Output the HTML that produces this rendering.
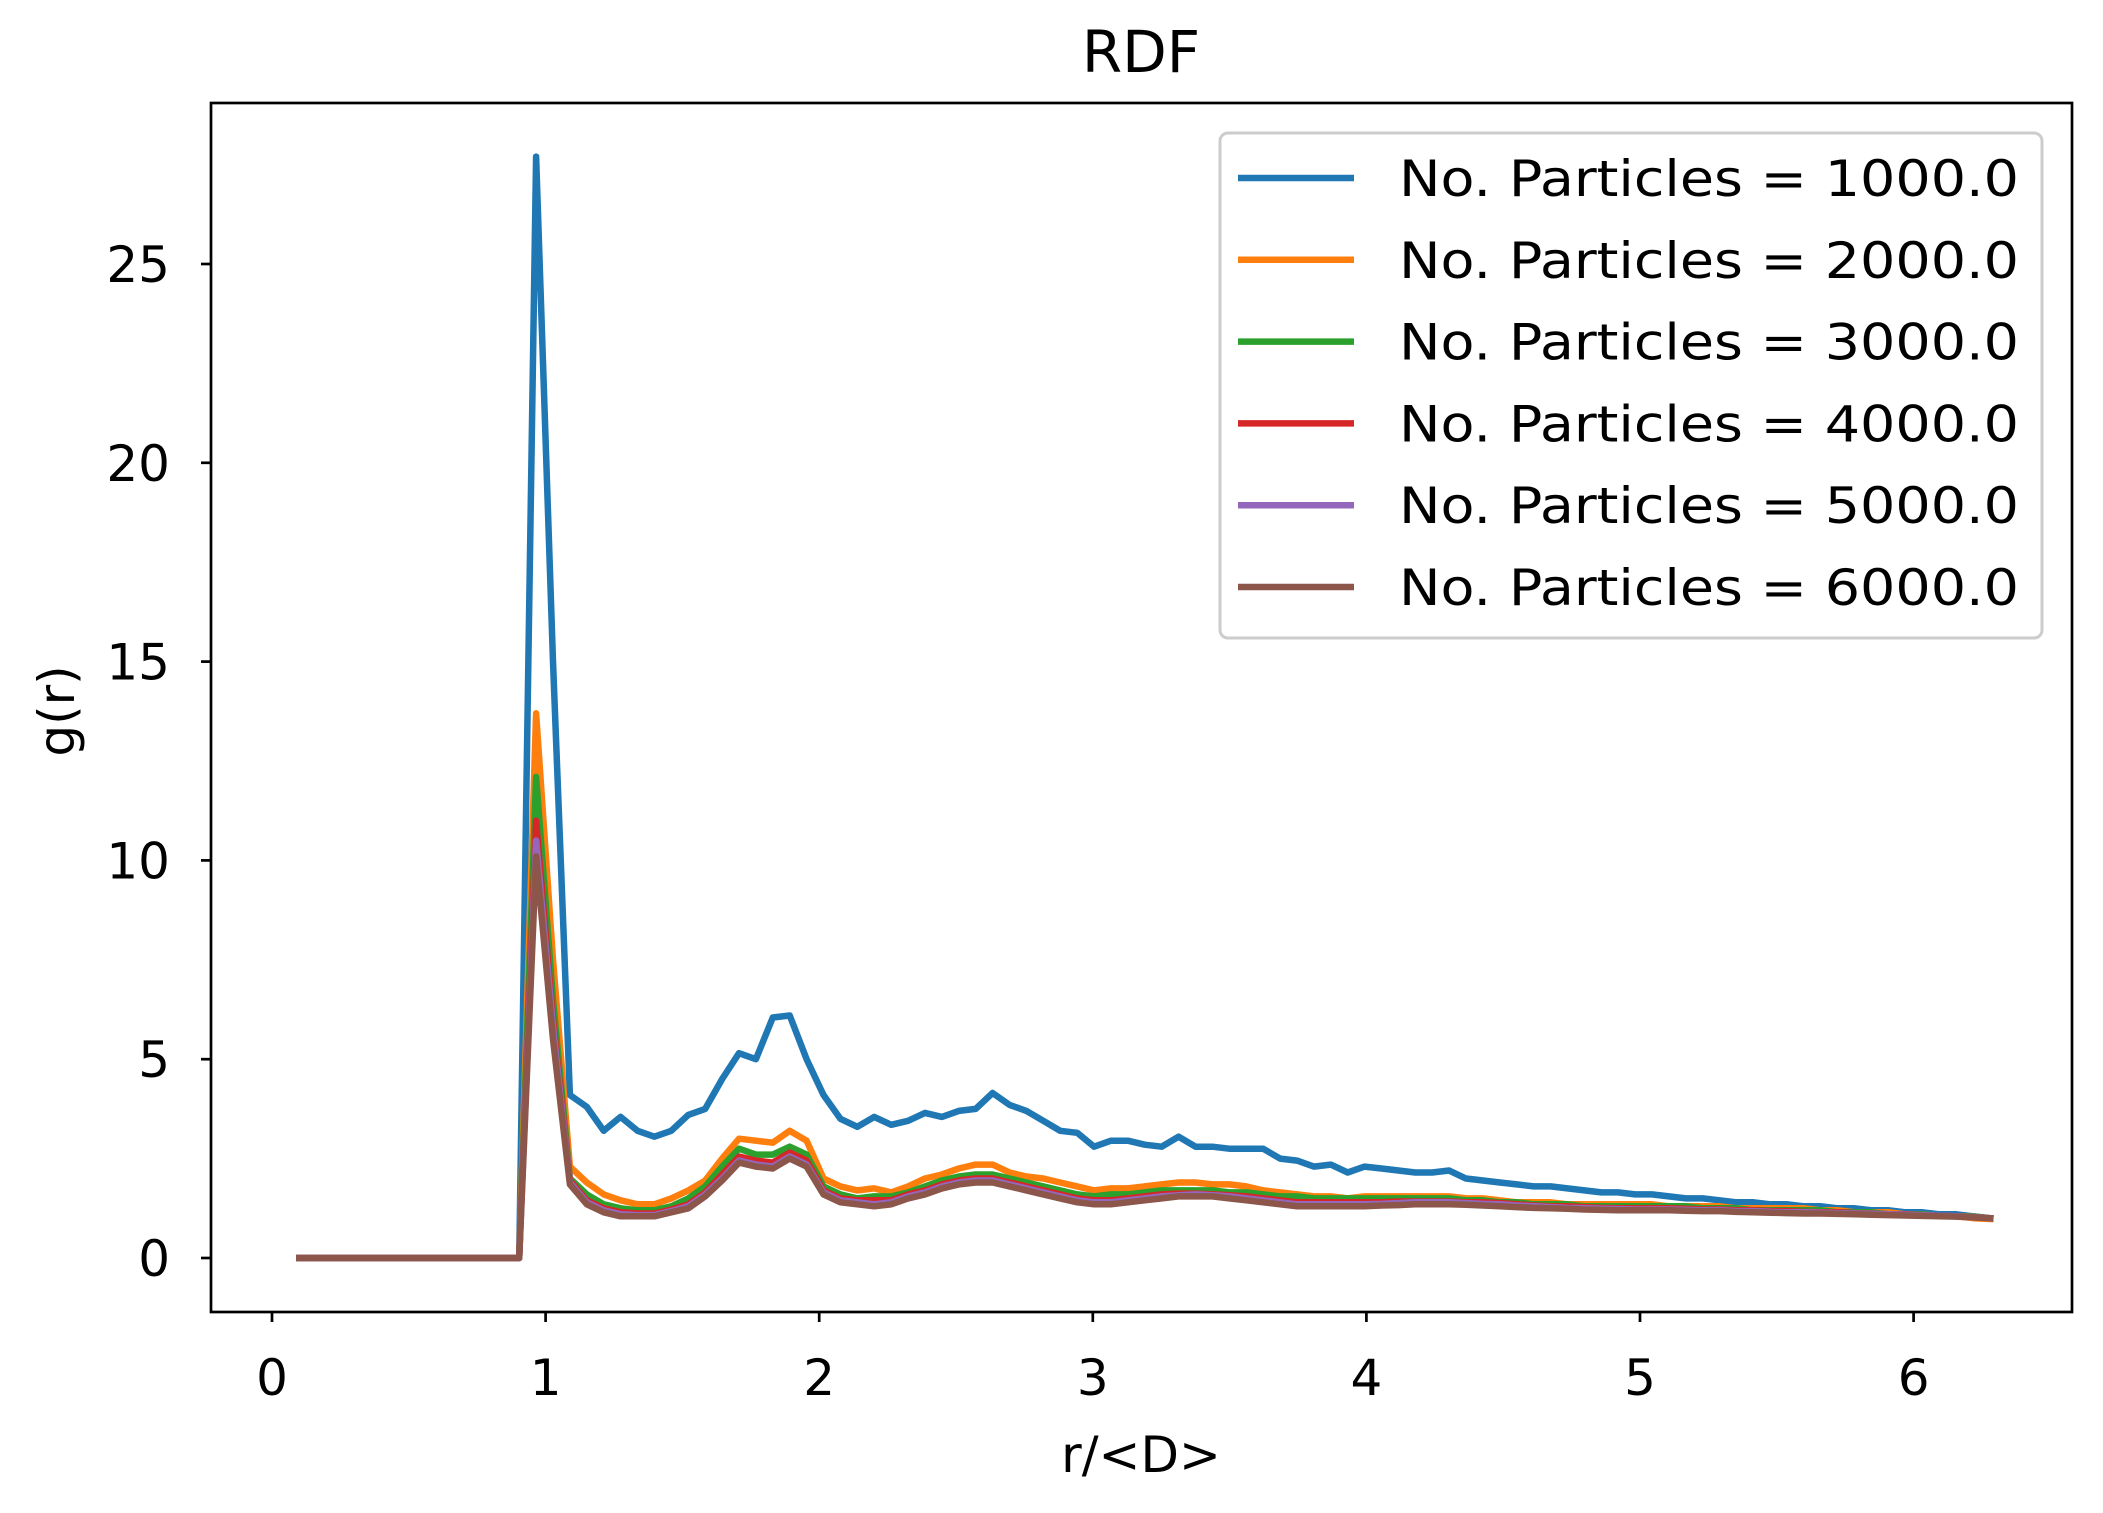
<!DOCTYPE html>
<html><head><meta charset="utf-8"><style>
html,body{margin:0;padding:0;background:#fff;}
svg{display:block;font-family:"DejaVu Sans","Liberation Sans",sans-serif;}
</style></head><body>
<svg id="chart" width="2103" height="1513" viewBox="0 0 2103 1513"></svg>
<script>
const rStart = 0.1;
const rStep = 0.0618;
const seriesLabels = ["No. Particles = 1000.0","No. Particles = 2000.0","No. Particles = 3000.0","No. Particles = 4000.0","No. Particles = 5000.0","No. Particles = 6000.0"];
const seriesColors = ["#1f77b4","#ff7f0e","#2ca02c","#d62728","#9467bd","#8c564b"];
const xTicks = [0,1,2,3,4,5,6];
const yTicks = [0,5,10,15,20,25];
const g1000 = [0,0,0,0,0,0,0,0,0,0,0,0,0,0,27.7,15,4.1,3.8,3.2,3.55,3.2,3.05,3.2,3.6,3.75,4.5,5.15,5.0,6.05,6.1,5.0,4.1,3.5,3.3,3.55,3.35,3.45,3.65,3.55,3.7,3.75,4.15,3.85,3.7,3.45,3.2,3.15,2.8,2.95,2.95,2.85,2.8,3.05,2.8,2.8,2.75,2.75,2.75,2.5,2.45,2.3,2.35,2.15,2.3,2.25,2.2,2.15,2.15,2.2,2.0,1.95,1.9,1.85,1.8,1.8,1.75,1.7,1.65,1.65,1.6,1.6,1.55,1.5,1.5,1.45,1.4,1.4,1.35,1.35,1.3,1.3,1.25,1.25,1.2,1.2,1.15,1.15,1.1,1.1,1.05,1.0];
const g2000 = [0,0,0,0,0,0,0,0,0,0,0,0,0,0,13.7,7.5,2.3,1.9,1.6,1.45,1.35,1.35,1.5,1.7,1.95,2.5,3.0,2.95,2.9,3.2,2.95,2.0,1.8,1.7,1.75,1.65,1.8,2.0,2.1,2.25,2.35,2.35,2.15,2.05,2.0,1.9,1.8,1.7,1.75,1.75,1.8,1.85,1.9,1.9,1.85,1.85,1.8,1.7,1.65,1.6,1.55,1.55,1.5,1.55,1.55,1.55,1.55,1.55,1.55,1.5,1.5,1.45,1.4,1.4,1.4,1.35,1.35,1.35,1.35,1.35,1.35,1.3,1.3,1.3,1.3,1.25,1.25,1.25,1.25,1.25,1.2,1.2,1.15,1.15,1.15,1.1,1.1,1.05,1.05,1.0,0.98];
const g3000 = [0,0,0,0,0,0,0,0,0,0,0,0,0,0,12.1,6.5,2.0,1.6,1.35,1.25,1.2,1.2,1.3,1.5,1.8,2.3,2.75,2.6,2.6,2.8,2.6,1.8,1.6,1.5,1.55,1.55,1.65,1.8,1.95,2.05,2.1,2.1,2.0,1.9,1.8,1.7,1.6,1.55,1.6,1.6,1.65,1.7,1.7,1.7,1.7,1.65,1.65,1.6,1.55,1.55,1.5,1.5,1.5,1.5,1.5,1.5,1.5,1.5,1.5,1.45,1.45,1.4,1.4,1.35,1.35,1.35,1.3,1.3,1.3,1.3,1.3,1.3,1.3,1.25,1.25,1.25,1.2,1.2,1.2,1.2,1.2,1.15,1.15,1.15,1.1,1.1,1.1,1.05,1.05,1.05,1.0];
const g4000 = [0,0,0,0,0,0,0,0,0,0,0,0,0,0,11.0,6.0,1.95,1.45,1.25,1.15,1.12,1.12,1.22,1.35,1.65,2.1,2.55,2.45,2.4,2.65,2.45,1.7,1.5,1.45,1.45,1.45,1.6,1.7,1.85,1.95,2.0,2.0,1.9,1.8,1.7,1.6,1.5,1.45,1.45,1.5,1.55,1.6,1.62,1.62,1.6,1.58,1.55,1.5,1.45,1.4,1.4,1.4,1.4,1.4,1.4,1.42,1.42,1.42,1.42,1.4,1.4,1.38,1.35,1.32,1.3,1.3,1.28,1.26,1.25,1.25,1.25,1.25,1.24,1.22,1.22,1.2,1.2,1.18,1.18,1.16,1.15,1.15,1.13,1.12,1.1,1.1,1.08,1.06,1.05,1.03,1.0];
const g5000 = [0,0,0,0,0,0,0,0,0,0,0,0,0,0,10.5,5.8,1.9,1.4,1.2,1.1,1.08,1.08,1.18,1.3,1.6,2.0,2.45,2.35,2.3,2.55,2.35,1.65,1.45,1.4,1.35,1.4,1.55,1.65,1.8,1.9,1.95,1.95,1.85,1.75,1.65,1.55,1.45,1.4,1.4,1.45,1.5,1.55,1.58,1.6,1.58,1.55,1.5,1.45,1.4,1.35,1.35,1.35,1.35,1.35,1.36,1.38,1.4,1.4,1.4,1.38,1.36,1.35,1.32,1.3,1.28,1.26,1.25,1.24,1.23,1.22,1.22,1.22,1.21,1.2,1.2,1.18,1.18,1.16,1.15,1.15,1.14,1.13,1.12,1.11,1.1,1.09,1.08,1.06,1.05,1.03,1.0];
const g6000 = [0,0,0,0,0,0,0,0,0,0,0,0,0,0,10.1,5.5,1.85,1.35,1.15,1.05,1.05,1.05,1.15,1.25,1.55,1.95,2.4,2.3,2.25,2.5,2.3,1.6,1.4,1.35,1.3,1.35,1.5,1.6,1.75,1.85,1.9,1.9,1.8,1.7,1.6,1.5,1.4,1.35,1.35,1.4,1.45,1.5,1.55,1.55,1.55,1.5,1.45,1.4,1.35,1.3,1.3,1.3,1.3,1.3,1.32,1.33,1.35,1.35,1.35,1.34,1.32,1.3,1.28,1.26,1.25,1.24,1.22,1.21,1.2,1.2,1.2,1.2,1.19,1.18,1.18,1.16,1.15,1.14,1.13,1.12,1.12,1.11,1.1,1.09,1.08,1.07,1.06,1.05,1.04,1.02,1.0];
const seriesValues = [g1000,g2000,g3000,g4000,g5000,g6000];

const NS = "http://www.w3.org/2000/svg";
const svg = document.getElementById("chart");
const plot = {left:211,right:2072,top:103,bottom:1312};
const xZero = 272, xUnit = 273.6;
const yZero = 1258, yUnit = 39.76;
function xs(v){ return xZero + v*xUnit; }
function ys(v){ return yZero - v*yUnit; }
function mk(tag, attrs, parent){
  const e = document.createElementNS(NS, tag);
  for (const k in attrs) e.setAttribute(k, attrs[k]);
  (parent||svg).appendChild(e);
  return e;
}

const title = mk("text",{x:1141,y:72,"font-size":58,"text-anchor":"middle",fill:"#000"});


title.textContent = "RDF";

const clip = mk("clipPath",{id:"pc"});
mk("rect",{x:plot.left,y:plot.top,width:plot.right-plot.left,height:plot.bottom-plot.top},clip);

const linesG = mk("g",{"clip-path":"url(#pc)"});


seriesValues.forEach((vals, si) => {
  const pts = vals.map((v,i) => xs(rStart + i*rStep).toFixed(1) + "," + ys(v).toFixed(1)).join(" ");
  const pl = mk("polyline",{points:pts,fill:"none",stroke:seriesColors[si],"stroke-width":6.5,"stroke-linejoin":"round","stroke-linecap":"square"},linesG);
  
  
});

const frame = mk("rect",{x:plot.left,y:plot.top,width:plot.right-plot.left,height:plot.bottom-plot.top,fill:"none",stroke:"#000","stroke-width":2.7});



xTicks.forEach(t => {
  const x = xs(t);
  const tk = mk("line",{x1:x,x2:x,y1:plot.bottom,y2:plot.bottom+10,stroke:"#000","stroke-width":2.7});
  
  
  const lb = mk("text",{x:x,y:1395,"font-size":50,"text-anchor":"middle",fill:"#000"});
  
  
  lb.textContent = t;
});
yTicks.forEach(t => {
  const y = ys(t);
  const tk = mk("line",{x1:plot.left-10,x2:plot.left,y1:y,y2:y,stroke:"#000","stroke-width":2.7});
  
  
  const lb = mk("text",{x:170,y:y+18,"font-size":50,"text-anchor":"end",fill:"#000"});
  
  
  lb.textContent = t;
});

const xl = mk("text",{x:1141,y:1472,"font-size":50,"text-anchor":"middle",fill:"#000"});


xl.textContent = "r/<D>";
const yl = mk("text",{x:0,y:0,"font-size":50,"text-anchor":"middle",fill:"#000",transform:"translate(74,711) rotate(-90)"});


yl.textContent = "g(r)";

const lg = mk("g",{});


mk("rect",{x:1220,y:133,width:822,height:505,rx:8,fill:"#fff","fill-opacity":0.8,stroke:"#ccc","stroke-width":3},lg);
seriesLabels.forEach((s,i) => {
  const y = 178 + i*81.8;
  const ln = mk("line",{x1:1238,x2:1354,y1:y,y2:y,stroke:seriesColors[i],"stroke-width":6.5},lg);
  
  
  const tx = mk("text",{x:1399,y:y+18,"font-size":50,fill:"#000",textLength:620,lengthAdjust:"spacingAndGlyphs"},lg);
  
  
  tx.textContent = s;
});
</script>
</body></html>
